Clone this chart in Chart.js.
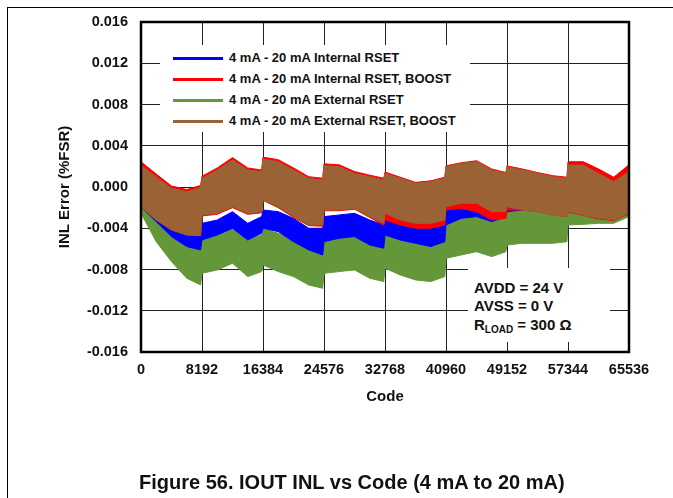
<!DOCTYPE html>
<html>
<head>
<meta charset="utf-8">
<script src="https://cdn.jsdelivr.net/npm/chart.js@4.4.0/dist/chart.umd.min.js"></script>
<style>
  body { margin: 0; background: #fff; font-family: "Liberation Sans", Arial, sans-serif; }
  #wrap { position: relative; width: 673px; height: 498px; overflow: hidden; }
  .abs { position: absolute; }
  .legend-row { position: absolute; left: 0; width: 310px; height: 20px; font-weight: bold; font-size: 13px; color: #111; white-space: nowrap; }
  .legend-row .txt { position: absolute; left: 69px; top: 0; line-height: 20px; }
  .note { position: absolute; left: 6px; font-weight: bold; font-size: 15px; line-height: 18px; color: #111; white-space: nowrap; }
</style>
</head>
<body>
<div id="wrap">
  <div class="abs" style="left:7px;top:7px;width:666px;height:1px;background:#000"></div>
  <div class="abs" style="left:7px;top:7px;width:1px;height:491px;background:#000"></div>
  <canvas id="chart" class="abs" width="673" height="498" style="left:0;top:0"></canvas>

  <div id="legend" class="abs" style="left:160px;top:45px;width:310px;height:87px;background:#fff"></div>

  <div class="abs" style="left:468px;top:268px;width:142px;height:74px;background:#fff">
    <div class="note" style="top:11px">AVDD = 24 V</div>
    <div class="note" style="top:29px">AVSS = 0 V</div>
    <div class="note" style="top:48px">R<span style="font-size:10px;position:relative;top:3px">LOAD</span> = 300 Ω</div>
  </div>

  <div class="abs" style="left:139px;top:470px;font-weight:bold;font-size:20px;line-height:24px;color:#111;white-space:nowrap">Figure 56. IOUT INL vs Code (4 mA to 20 mA)</div>
</div>
<script>
// Code values where the envelopes were read
var codes = [0, 2048, 4096, 6144, 8000, 8192, 10240, 12288, 14336, 16200,
  16384, 18432, 20480, 22528, 24400, 24576, 26624, 28672, 30720, 32600,
  32768, 34816, 36864, 38912, 40800, 40960, 43008, 45056, 47104, 49000,
  49152, 51200, 53248, 55296, 57200, 57344, 59392, 61440, 63488, 65535];

// Upper / lower envelope of each INL trace (%FSR)
var intTop = [0.00019, -0.00158, -0.00304, -0.00400, -0.00426, -0.00352, -0.00320, -0.00239, -0.00352, -0.00287,
  -0.00223, -0.00239, -0.00304, -0.00400, -0.00400, -0.00287, -0.00271, -0.00255, -0.00320, -0.00368,
  -0.00287, -0.00336, -0.00384, -0.00400, -0.00368, -0.00207, -0.00174, -0.00174, -0.00239, -0.00207,
  -0.00158, -0.00110, -0.00110, -0.00126, -0.00142, -0.00045, -0.00045, -0.00078, -0.00110, -0.00013];
var intBot = [-0.00191, -0.00336, -0.00481, -0.00578, -0.00610, -0.00514, -0.00465, -0.00400, -0.00514, -0.00449,
  -0.00400, -0.00433, -0.00530, -0.00610, -0.00659, -0.00530, -0.00497, -0.00481, -0.00562, -0.00594,
  -0.00465, -0.00514, -0.00546, -0.00578, -0.00530, -0.00368, -0.00304, -0.00287, -0.00336, -0.00287,
  -0.00239, -0.00223, -0.00223, -0.00239, -0.00255, -0.00174, -0.00191, -0.00223, -0.00255, -0.00271];

var intBoostTop = [0.00245, 0.00125, 0.00010, -0.00025, 0.00015, 0.00105, 0.00185, 0.00285, 0.00185, 0.00165,
  0.00290, 0.00265, 0.00185, 0.00100, 0.00085, 0.00225, 0.00215, 0.00150, 0.00115, 0.00085,
  0.00145, 0.00095, 0.00045, 0.00060, 0.00095, 0.00205, 0.00235, 0.00255, 0.00175, 0.00140,
  0.00205, 0.00175, 0.00140, 0.00110, 0.00095, 0.00245, 0.00245, 0.00175, 0.00095, 0.00215];
var intBoostBot = [-0.00191, -0.00320, -0.00417, -0.00465, -0.00472, -0.00280, -0.00265, -0.00200, -0.00265, -0.00250,
  -0.00130, -0.00200, -0.00295, -0.00375, -0.00380, -0.00230, -0.00230, -0.00215, -0.00295, -0.00370,
  -0.00320, -0.00368, -0.00400, -0.00400, -0.00368, -0.00223, -0.00207, -0.00239, -0.00320, -0.00304,
  -0.00223, -0.00223, -0.00239, -0.00271, -0.00287, -0.00245, -0.00275, -0.00310, -0.00325, -0.00260];

var extTop = [0.00019, -0.00207, -0.00384, -0.00530, -0.00594, -0.00481, -0.00449, -0.00384, -0.00514, -0.00465,
  -0.00400, -0.00449, -0.00514, -0.00594, -0.00627, -0.00481, -0.00465, -0.00449, -0.00530, -0.00562,
  -0.00449, -0.00497, -0.00546, -0.00562, -0.00530, -0.00352, -0.00304, -0.00271, -0.00320, -0.00271,
  -0.00223, -0.00223, -0.00223, -0.00207, -0.00174, -0.00078, -0.00078, -0.00110, -0.00142, -0.00078];
var extBot = [-0.00255, -0.00530, -0.00724, -0.00885, -0.00950, -0.00837, -0.00804, -0.00740, -0.00869, -0.00820,
  -0.00756, -0.00820, -0.00869, -0.00950, -0.00982, -0.00837, -0.00820, -0.00804, -0.00885, -0.00917,
  -0.00788, -0.00853, -0.00901, -0.00917, -0.00869, -0.00691, -0.00659, -0.00627, -0.00675, -0.00627,
  -0.00562, -0.00546, -0.00546, -0.00546, -0.00530, -0.00368, -0.00362, -0.00352, -0.00352, -0.00287];

var extBoostTop = [0.00210, 0.00100, -0.00013, -0.00045, -0.00006, 0.00084, 0.00165, 0.00262, 0.00165, 0.00149,
  0.00271, 0.00245, 0.00165, 0.00084, 0.00068, 0.00207, 0.00197, 0.00132, 0.00100, 0.00068,
  0.00132, 0.00084, 0.00036, 0.00052, 0.00084, 0.00197, 0.00229, 0.00245, 0.00165, 0.00132,
  0.00197, 0.00165, 0.00132, 0.00100, 0.00084, 0.00213, 0.00213, 0.00132, 0.00052, 0.00149];
var extBoostBot = [-0.00191, -0.00320, -0.00417, -0.00465, -0.00472, -0.00271, -0.00255, -0.00191, -0.00255, -0.00239,
  -0.00126, -0.00191, -0.00287, -0.00368, -0.00368, -0.00223, -0.00223, -0.00207, -0.00287, -0.00352,
  -0.00255, -0.00320, -0.00352, -0.00352, -0.00320, -0.00191, -0.00158, -0.00158, -0.00239, -0.00239,
  -0.00191, -0.00223, -0.00239, -0.00271, -0.00287, -0.00239, -0.00271, -0.00304, -0.00320, -0.00255];

var seriesNames = ['4 mA - 20 mA Internal RSET', '4 mA - 20 mA Internal RSET, BOOST',
  '4 mA - 20 mA External RSET', '4 mA - 20 mA External RSET, BOOST'];
var seriesColors = ['#0000ff', '#ff0000', '#64963a', '#9a6235'];

var xTicks = [0, 8192, 16384, 24576, 32768, 40960, 49152, 57344, 65536];
var yTicks = [-0.016, -0.012, -0.008, -0.004, 0, 0.004, 0.008, 0.012, 0.016];

function pts(arr) {
  return codes.map(function(c, i) { return { x: c, y: arr[i] }; });
}

// each trace is a band: upper edge, then lower edge filled up to it
function band(top, bot, color, order) {
  return [{
    data: pts(top), borderColor: color, backgroundColor: color,
    borderWidth: 1, pointRadius: 0, fill: false, order: order
  }, {
    data: pts(bot), borderColor: color, backgroundColor: color,
    borderWidth: 1, pointRadius: 0, fill: '-1', order: order
  }];
}

var datasets = []
  .concat(band(extTop, extBot, seriesColors[2], 3))
  .concat(band(intTop, intBot, seriesColors[0], 2))
  .concat(band(intBoostTop, intBoostBot, seriesColors[1], 1))
  .concat(band(extBoostTop, extBoostBot, seriesColors[3], 0));

// Legend (HTML)
var legend = document.getElementById('legend');
seriesNames.forEach(function(name, i) {
  var row = document.createElement('div');
  row.className = 'legend-row';
  row.style.top = (3 + i * 21) + 'px';
  var sw = document.createElement('div');
  sw.style.cssText = 'position:absolute;left:13px;top:9px;width:50px;height:3px;font-size:0;line-height:0;background:' + seriesColors[i];
  var txt = document.createElement('div');
  txt.className = 'txt';
  txt.textContent = name;
  row.appendChild(sw);
  row.appendChild(txt);
  legend.appendChild(row);
});

var boxPlugin = {
  id: 'plotBox',
  afterDraw: function(chart) {
    var a = chart.chartArea, ctx = chart.ctx;
    ctx.save();
    ctx.strokeStyle = '#000';
    ctx.lineWidth = 2.5;
    ctx.strokeRect(a.left, a.top, a.right - a.left, a.bottom - a.top);
    ctx.restore();
  }
};

var tickFont = { family: '"Liberation Sans", Arial, sans-serif', size: 14.5, weight: 'bold' };

new Chart(document.getElementById('chart'), {
  type: 'line',
  data: { datasets: datasets },
  options: {
    responsive: false,
    animation: false,
    events: [],
    layout: { padding: { left: 0, top: 22, right: 44, bottom: 86 } },
    plugins: { legend: { display: false }, tooltip: { enabled: false } },
    scales: {
      x: {
        type: 'linear', min: 0, max: 65536,
        afterBuildTicks: function(scale) { scale.ticks = xTicks.map(function(v) { return { value: v }; }); },
        afterFit: function(scale) { scale.height = 60; },
        ticks: { color: '#111', font: tickFont, padding: 9, maxRotation: 0,
          callback: function(v) { return String(v); } },
        grid: { color: '#222', lineWidth: 1, drawTicks: false },
        border: { display: false },
        title: { display: true, text: 'Code', color: '#111', font: { family: tickFont.family, size: 15, weight: 'bold' },
          padding: { top: 0, bottom: 6 } }
      },
      y: {
        min: -0.016, max: 0.016,
        afterBuildTicks: function(scale) { scale.ticks = yTicks.map(function(v) { return { value: v }; }); },
        afterFit: function(scale) { scale.width = 141; },
        ticks: { color: '#111', font: tickFont, padding: 13,
          callback: function(v) { return Math.abs(v) < 1e-9 ? '0.000' : v.toFixed(3); } },
        grid: { color: '#222', lineWidth: 1, drawTicks: false },
        border: { display: false },
        title: { display: true, text: 'INL Error (%FSR)', color: '#111', font: { family: tickFont.family, size: 15, weight: 'bold' },
          padding: { top: 56, bottom: 0 } }
      }
    }
  },
  plugins: [boxPlugin]
});
</script>
</body>
</html>
